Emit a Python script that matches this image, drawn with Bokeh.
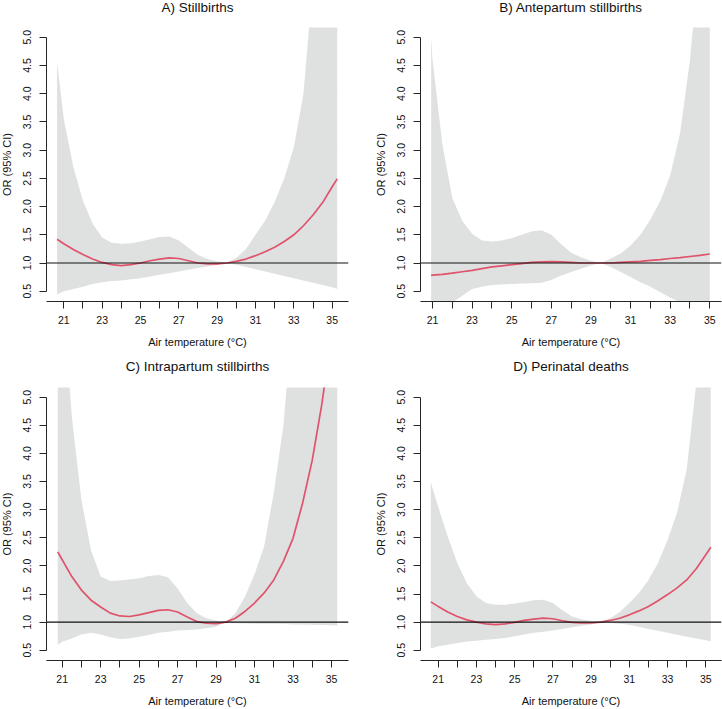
from bokeh.plotting import figure
from bokeh.layouts import column, row
from bokeh.models import FixedTicker, Span, Range1d, NumeralTickFormatter, Title
from bokeh.embed import file_html
from bokeh.resources import INLINE

# ---------------- data ----------------
titles = ["A) Stillbirths", "B) Antepartum stillbirths",
          "C) Intrapartum stillbirths", "D) Perinatal deaths"]
x_label = "Air temperature (\u00b0C)"
y_label = "OR (95% CI)"
x_major_ticks = [21, 23, 25, 27, 29, 31, 33, 35]
x_minor_ticks = [22, 24, 26, 28, 30, 32, 34]
y_ticks = [0.5, 1.0, 1.5, 2.0, 2.5, 3.0, 3.5, 4.0, 4.5, 5.0]
ref_or = 1.0

half = [21, 21.5, 22, 22.5, 23, 23.5, 24, 24.5, 25, 25.5, 26, 26.5, 27, 27.5,
        28, 28.5, 29, 29.5, 30, 30.5, 31, 31.5, 32, 32.5, 33, 33.5, 34, 34.5, 35]

temp_a = [20.65] + half + [35.26]
or_a = [1.42, 1.34, 1.24, 1.15, 1.07, 1.01, 0.97, 0.955, 0.97, 1.0, 1.04, 1.07, 1.09, 1.08, 1.04,
        1.0, 0.985, 0.985, 1.0, 1.03, 1.07, 1.13, 1.2, 1.28, 1.38, 1.5, 1.66, 1.85, 2.07, 2.35, 2.49]
hi_a = [4.56, 3.55, 2.7, 2.1, 1.7, 1.45, 1.36, 1.34, 1.35, 1.38, 1.42, 1.46, 1.47, 1.4, 1.27,
        1.14, 1.07, 1.03, 1.0, 1.09, 1.25, 1.5, 1.75, 2.08, 2.5, 3.05, 4.0, 6.0, 7.5, 10.0, 12.0]
lo_a = [0.44, 0.5, 0.54, 0.58, 0.63, 0.66, 0.68, 0.69, 0.71, 0.73, 0.76, 0.79, 0.82, 0.85, 0.88,
        0.91, 0.94, 0.965, 1.0, 0.97, 0.93, 0.89, 0.85, 0.81, 0.77, 0.73, 0.69, 0.65, 0.61, 0.57, 0.54]

temp_b = [20.93] + half
or_b = [0.78, 0.785, 0.8, 0.82, 0.845, 0.87, 0.9, 0.93, 0.95, 0.97, 0.99, 1.01, 1.02, 1.025, 1.02,
        1.01, 1.0, 1.0, 1.0, 1.0, 1.01, 1.02, 1.03, 1.045, 1.06, 1.08, 1.095, 1.115, 1.135, 1.16]
hi_b = [5.0, 4.6, 3.1, 2.15, 1.75, 1.52, 1.4, 1.38, 1.4, 1.44, 1.5, 1.56, 1.58, 1.5, 1.33,
        1.18, 1.1, 1.04, 1.0, 1.08, 1.17, 1.31, 1.5, 1.77, 2.1, 2.55, 3.3, 4.6, 6.5, 9.0]
lo_b = [0.08, 0.1, 0.18, 0.3, 0.42, 0.54, 0.58, 0.61, 0.62, 0.63, 0.635, 0.64, 0.65, 0.7, 0.78,
        0.84, 0.9, 0.955, 1.0, 0.93, 0.84, 0.75, 0.66, 0.58, 0.48, 0.39, 0.3, 0.24, 0.19, 0.15]

temp_c = [20.77] + half + [35.3]
or_c = [2.25, 2.11, 1.81, 1.57, 1.39, 1.27, 1.16, 1.11, 1.1, 1.13, 1.17, 1.21, 1.22, 1.18, 1.09,
        1.01, 0.98, 0.975, 1.0, 1.07, 1.19, 1.34, 1.52, 1.75, 2.08, 2.49, 3.12, 3.88, 4.88, 6.1, 7.0]
hi_c = [9.0, 7.0, 4.65, 3.17, 2.28, 1.81, 1.73, 1.74, 1.76, 1.78, 1.82, 1.84, 1.8, 1.6, 1.34,
        1.16, 1.07, 1.03, 1.0, 1.16, 1.45, 1.85, 2.35, 3.3, 4.5, 6.5, 8.0, 10.0, 12.0, 15.0, 17.0]
lo_c = [0.6, 0.65, 0.71, 0.78, 0.81, 0.78, 0.73, 0.7, 0.71, 0.74, 0.77, 0.81, 0.83, 0.85, 0.86,
        0.87, 0.89, 0.92, 1.0, 0.98, 0.975, 0.97, 0.97, 0.97, 0.965, 0.96, 0.96, 0.955, 0.95, 0.945, 0.94]

temp_d = [20.61] + half + [35.26]
or_d = [1.36, 1.28, 1.18, 1.1, 1.04, 1.0, 0.97, 0.955, 0.97, 0.995, 1.03, 1.055, 1.07, 1.06, 1.025,
        0.995, 0.985, 0.985, 1.0, 1.03, 1.07, 1.13, 1.2, 1.28, 1.38, 1.49, 1.61, 1.75, 1.95, 2.2, 2.33]
hi_d = [3.49, 3.05, 2.52, 2.05, 1.69, 1.46, 1.34, 1.31, 1.31, 1.33, 1.36, 1.39, 1.4, 1.34, 1.21,
        1.1, 1.05, 1.02, 1.0, 1.07, 1.18, 1.34, 1.52, 1.75, 2.05, 2.46, 2.95, 3.72, 5.25, 8.0, 9.5]
lo_d = [0.53, 0.57, 0.6, 0.63, 0.655, 0.67, 0.685, 0.7, 0.72, 0.75, 0.78, 0.81, 0.83, 0.85, 0.88,
        0.91, 0.935, 0.96, 1.0, 0.985, 0.97, 0.955, 0.92, 0.88, 0.845, 0.81, 0.775, 0.74, 0.71, 0.68, 0.66]

# ---------------- styling / layout ----------------
FONT = "Liberation Sans"
RED = "#DF536B"
BAND = "#DFE0E0"
AXC = "#262626"
Y_RANGE = (0.318, 5.172)


def panel(title, t, orv, lo, hi, xr, width, height, bl, br, bt, bb, tstand):
    p = figure(width=width, height=height, x_range=Range1d(*xr), y_range=Range1d(*Y_RANGE),
               output_backend="svg", toolbar_location=None,
               min_border_left=bl, min_border_right=br, min_border_top=bt, min_border_bottom=bb)
    p.outline_line_color = None
    p.border_fill_color = None
    p.grid.visible = False

    p.add_layout(Title(text=title, align="center", vertical_align="top", standoff=tstand,
                       text_font=FONT, text_font_size="13.5px", text_font_style="normal",
                       text_color="#111111"), "above")

    p.varea(x=t, y1=lo, y2=hi, fill_color=BAND, fill_alpha=1.0)
    p.line(t, orv, line_color=RED, line_width=1.7)
    p.add_layout(Span(location=ref_or, dimension="width", line_color="#111111", line_width=1.1))

    for ax in (p.xaxis[0], p.yaxis[0]):
        ax.axis_line_color = AXC
        ax.major_tick_line_color = AXC
        ax.minor_tick_line_color = AXC
        ax.major_tick_in = 0
        ax.major_tick_out = 7
        ax.minor_tick_in = 0
        ax.minor_tick_out = 7
        ax.major_label_text_font = FONT
        ax.major_label_text_font_size = "10.5px"
        ax.major_label_text_color = "#111111"
        ax.axis_label_text_font = FONT
        ax.axis_label_text_font_size = "11px"
        ax.axis_label_text_font_style = "normal"
        ax.axis_label_text_color = "#111111"

    xa = p.xaxis[0]
    xa.ticker = FixedTicker(ticks=x_major_ticks, minor_ticks=x_minor_ticks)
    xa.axis_label = x_label
    xa.major_label_standoff = 7
    xa.axis_label_standoff = 9

    ya = p.yaxis[0]
    ya.ticker = FixedTicker(ticks=y_ticks)
    ya.formatter = NumeralTickFormatter(format="0.0")
    ya.bounds = (y_ticks[0], y_ticks[-1])
    ya.major_label_orientation = "vertical"
    ya.axis_label = y_label
    ya.major_label_standoff = 8
    ya.axis_label_standoff = 8
    return p


pa = panel(titles[0], temp_a, or_a, lo_a, hi_a, (20.098, 35.850), 376, 366, 56, 18, 41, 51, 21)
pb = panel(titles[1], temp_b, or_b, lo_b, hi_b, (20.394, 35.591), 356, 366, 54, 1, 41, 51, 21)
pc = panel(titles[2], temp_c, or_c, lo_c, hi_c, (20.184, 35.884), 376, 368, 56, 18, 46, 48, 23)
pd = panel(titles[3], temp_d, or_d, lo_d, hi_d, (20.074, 35.821), 356, 368, 54, 1, 46, 48, 23)

layout = column(row(pa, pb, margin=(-14, 0, 0, 0)),
                row(pc, pd, margin=(-11, 0, 0, 0)),
                margin=(0, 0, 0, -10))

open("out.html", "w").write(file_html(layout, INLINE))
